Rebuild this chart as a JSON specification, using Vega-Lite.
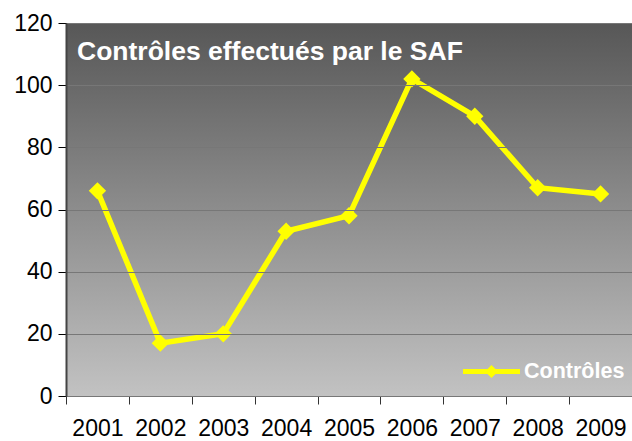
{
  "$schema": "https://vega.github.io/schema/vega-lite/v6.json",
  "autosize": "none",
  "width": 566,
  "height": 373,
  "padding": {"left": 66, "top": 23, "right": 0, "bottom": 45},
  "background": "white",
  "config": {"view": {"stroke": null}, "font": "Liberation Sans"},
  "title": {
    "text": "Contrôles effectués par le SAF",
    "anchor": "start",
    "frame": "group",
    "orient": "top",
    "offset": -74,
    "dx": 11,
    "color": "white",
    "fontSize": 26.5,
    "fontWeight": "bold",
    "font": "Liberation Sans",
    "baseline": "alphabetic"
  },
  "data": {
    "values": [
      {"year": "2001", "value": 66, "series": "Contrôles"},
      {"year": "2002", "value": 17, "series": "Contrôles"},
      {"year": "2003", "value": 20, "series": "Contrôles"},
      {"year": "2004", "value": 53, "series": "Contrôles"},
      {"year": "2005", "value": 58, "series": "Contrôles"},
      {"year": "2006", "value": 102, "series": "Contrôles"},
      {"year": "2007", "value": 90, "series": "Contrôles"},
      {"year": "2008", "value": 67, "series": "Contrôles"},
      {"year": "2009", "value": 65, "series": "Contrôles"}
    ]
  },
  "layer": [
    {
      "data": {"values": [{"a": 1}]},
      "mark": {
        "type": "rect",
        "color": {
          "gradient": "linear",
          "x1": 0, "y1": 0, "x2": 0, "y2": 1,
          "stops": [
            {"offset": 0, "color": "#575757"},
            {"offset": 1, "color": "#c2c2c2"}
          ]
        }
      },
      "encoding": {}
    },
    {
      "mark": {"type": "line", "strokeWidth": 5.5, "strokeJoin": "miter"},
      "encoding": {
        "x": {
          "field": "year", "type": "ordinal",
          "scale": {"type": "band", "paddingInner": 0, "paddingOuter": 0},
          "axis": {
            "title": null, "labelAngle": 0, "tickBand": "extent",
            "labelFontSize": 23, "labelColor": "black", "labelPadding": 13,
            "tickSize": 8, "tickColor": "#333", "domainColor": "black",
            "labelFont": "Liberation Sans", "grid": false
          }
        },
        "y": {
          "field": "value", "type": "quantitative",
          "scale": {"domain": [0, 120], "nice": false},
          "axis": {
            "title": null, "values": [0, 20, 40, 60, 80, 100, 120],
            "labelFontSize": 23, "labelColor": "black", "labelPadding": 6,
            "tickSize": 8, "tickColor": "black", "domainColor": "#444",
            "domainWidth": 2, "labelFont": "Liberation Sans",
            "grid": true, "gridColor": "#777777", "gridWidth": 1,
            "zindex": 1
          }
        },
        "color": {
          "field": "series", "type": "nominal",
          "scale": {"range": ["#ffff00"]},
          "legend": {
            "title": null, "orient": "none", "legendX": 397, "legendY": 320,
            "symbolType": "M-1,-0.09 L-0.14,-0.09 L0,-0.23 L0.14,-0.09 L1,-0.09 L1,0.09 L0.14,0.09 L0,0.23 L-0.14,0.09 L-1,0.09 Z",
            "symbolSize": 3249, "symbolFillColor": "#ffff00", "symbolStrokeWidth": 0,
            "labelColor": "white", "labelFontSize": 21.5, "labelFontWeight": "bold",
            "labelFont": "Liberation Sans", "padding": 0, "labelOffset": 4
          }
        }
      }
    },
    {
      "mark": {"type": "point", "shape": "diamond", "filled": true, "size": 300, "opacity": 1},
      "encoding": {
        "x": {"field": "year", "type": "ordinal"},
        "y": {"field": "value", "type": "quantitative"},
        "color": {"field": "series", "type": "nominal"}
      }
    }
  ]
}
